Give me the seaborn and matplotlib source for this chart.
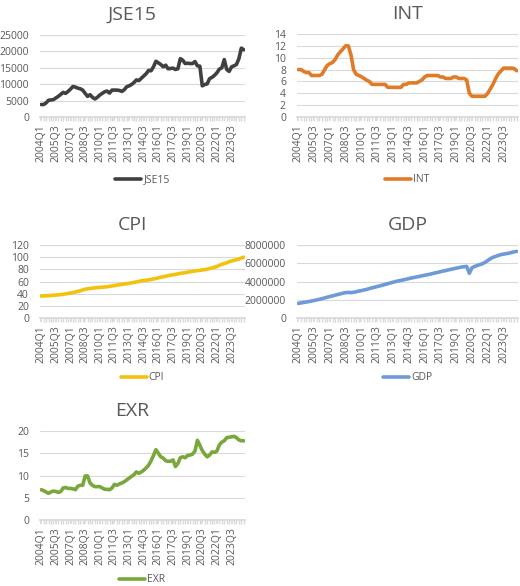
import matplotlib
matplotlib.use("Agg")
import matplotlib.pyplot as plt
import matplotlib.ticker as mticker
import seaborn as sns
import pandas as pd
import numpy as np

quarters = [f"{y}Q{q}" for y in range(2004, 2025) for q in range(1, 5)]

jse15 = [3800,3800,4300,5100, 5200,5300,5800,6300, 6900,7500,7200,7800, 8500,9300,9100,8800,
         8600,8200,7200,6300, 6800,6000,5500,6000, 6700,7200,7700,7900, 7300,8200,8200,8200,
         8100,7800,8300,9200, 9500,9900,10500,11300, 11100,11800,12500,13200, 14200,14100,15300,17000,
         16500,16000,15300,15800, 14700,14800,14900,14500, 14700,17800,17300,16300, 16400,16300,16300,16900,
         15600,15500,9500,9900, 10100,11700,12100,12700, 13500,14600,15000,17500, 14500,13900,15300,15600,
         16000,17800,21000,20500]
int_rate = [8,8,7.7,7.5, 7.5,7,7,7, 7,7.2,8,8.7, 9,9.2,9.7,10.5, 11,11.5,12,12, 10.5,8,7.2,7,
            6.8,6.5,6.2,6, 5.5,5.5,5.5,5.5, 5.5,5.5,5,5, 5,5,5,5, 5.5,5.5,5.75,5.75, 5.75,5.75,6,6.25,
            6.75,7,7,7, 7,7,6.75,6.75, 6.5,6.5,6.5,6.75, 6.75,6.5,6.5,6.5, 6.25,4,3.5,3.5, 3.5,3.5,3.5,3.5,
            4,4.75,5.5,6.5, 7.25,7.75,8.25,8.25, 8.25,8.25,8.2,7.8]
cpi = [36,36.3,36.5,36.8, 37,37.3,37.7,38, 38.5,39,39.6,40.3, 41,41.8,42.8,43.8, 44.8,46,47.3,48,
       48.5,49,49.5,50, 50.3,50.6,51,51.4, 52,52.6,53.3,54, 54.6,55.2,55.8,56.4, 57,57.8,58.5,59.3,
       60.1,61,61.8,62.2, 62.6,63.4,64.3,64.9, 66,67,67.9,68.6, 69.7,70.5,71,71.6, 72.6,73.3,74,74.5,
       75.3,76.1,76.7,77.2, 78,78.2,79,79.5, 80.3,81.3,82.3,83.5, 84.8,86.5,88.3,89.5, 90.8,92.5,93.8,94.8,
       95.8,97,98.5,100]
gdp_m = [1.60,1.65,1.70,1.75, 1.80,1.86,1.92,1.98, 2.05,2.12,2.20,2.28, 2.35,2.42,2.50,2.58,
         2.65,2.72,2.78,2.80, 2.78,2.82,2.88,2.95, 3.00,3.07,3.14,3.22, 3.30,3.38,3.45,3.52,
         3.60,3.68,3.76,3.84, 3.92,4.00,4.07,4.12, 4.18,4.25,4.32,4.38, 4.44,4.50,4.56,4.62,
         4.68,4.74,4.80,4.87, 4.94,5.00,5.07,5.14, 5.20,5.27,5.33,5.40, 5.46,5.52,5.58,5.62,
         5.65,4.90,5.50,5.65, 5.75,5.85,5.95,6.10, 6.30,6.50,6.65,6.75, 6.85,6.95,7.00,7.05,
         7.10,7.18,7.25,7.30]
gdp = [v * 1e6 for v in gdp_m]
exr = [6.8,6.6,6.3,6.0, 6.3,6.5,6.4,6.2, 6.4,7.2,7.3,7.1, 7.1,7.0,6.8,7.6, 7.8,7.8,9.9,9.9,
       8.3,7.8,7.5,7.5, 7.5,7.2,6.9,6.9, 6.8,7.2,8.0,7.8, 8.1,8.3,8.6,9.0, 9.4,9.8,10.2,10.8,
       10.5,10.8,11.2,11.7, 12.3,13.3,14.5,15.8, 15.0,14.2,13.9,13.3, 13.2,13.2,13.5,12.0,
       12.7,14.0,14.2,14.0, 14.5,14.6,14.8,15.5, 17.9,16.8,15.6,14.8, 14.2,14.6,15.3,15.2,
       15.5,16.9,17.5,17.8, 18.5,18.6,18.7,18.8, 18.5,18.0,17.8,17.8]

sns.set_theme(style="white")
plt.rcParams['font.family'] = ['Open Sans', 'DejaVu Sans']
txt = '#595959'

fig = plt.figure(figsize=(5.2, 5.86), dpi=100)
W, H = 520, 586
def ax_px(l, t, r, b):
    return fig.add_axes([l / W, 1 - b / H, (r - l) / W, (b - t) / H])

specs = [
    ("JSE15", jse15, '#404040', (40, 35, 245, 117), 25000, 5000, 180, 14),
    ("INT", int_rate, '#e07b28', (297, 34, 518, 117), 14, 2, 180, 14),
    ("CPI", cpi, '#f2c20f', (40, 245, 245, 318), 120, 20, 378, 14),
    ("GDP", gdp, '#6f9ad8', (297, 245, 518, 318), 8000000, 2000000, 378, 14),
    ("EXR", exr, '#78a83a', (40, 431, 245, 520), 20, 5, 580, 24),
]
x = np.arange(len(quarters))
for name, vals, col, box, ymax, step, legy, toff in specs:
    ax = ax_px(*box)
    df = pd.DataFrame({"x": x, "v": vals})
    sns.lineplot(data=df, x="x", y="v", ax=ax, color=col, linewidth=2.6, label=name)
    ax.set_xlim(-0.5, len(quarters) - 0.5)
    ax.set_ylim(0, ymax)
    ax.set_yticks(np.arange(0, ymax + 1, step))
    ax.yaxis.set_major_formatter(mticker.FuncFormatter(lambda v, p: f"{v:.0f}"))
    ax.yaxis.grid(True, color='#d9d9d9', linewidth=0.8)
    ax.set_axisbelow(True)
    for s in ['top', 'right', 'left']:
        ax.spines[s].set_visible(False)
    ax.spines['bottom'].set_color('#d9d9d9')
    ax.set_xticks(x[::6])
    ax.set_xticklabels(quarters[::6], rotation=90)
    ax.set_xticks(x, minor=True)
    ax.tick_params(axis='x', which='both', bottom=True, length=3, color='#d9d9d9', labelsize=7.5, labelcolor=txt, pad=2)
    ax.tick_params(axis='y', labelsize=7.5, labelcolor=txt, left=False, pad=2)
    ax.set_xlabel(""); ax.set_ylabel("")
    l, t, r, b = box
    cx = ((l + r) / 2 - 10) if name in ("JSE15", "CPI", "EXR") else (l + r) / 2
    fig.text(cx / W, 1 - (t - 20) / H, name, ha='center', va='center', fontsize=14, color=txt)
    leg = ax.legend(loc='center', bbox_to_anchor=((l + r) / 2 / W, 1 - legy / H),
                    bbox_transform=fig.transFigure, frameon=False, fontsize=7.5,
                    handlelength=2.5, handletextpad=0.2)
    for t_ in leg.get_texts():
        t_.set_color(txt)

fig.savefig("out.png", dpi=100)
